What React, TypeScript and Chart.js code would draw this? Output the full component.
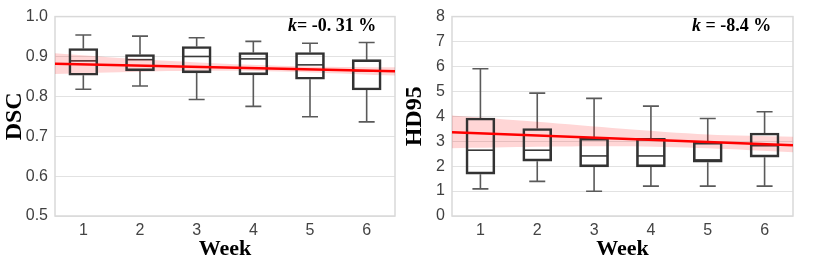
import React, { useEffect, useRef } from 'react';
import { Chart, registerables } from 'chart.js';
Chart.register(...registerables);

// ---------- data ----------
const weeks = ['1', '2', '3', '4', '5', '6'];

const dscMin = [0.818, 0.826, 0.792, 0.775, 0.749, 0.736];
const dscQ1 = [0.853, 0.864, 0.859, 0.854, 0.843, 0.816];
const dscMedian = [0.889, 0.892, 0.9, 0.894, 0.879, 0.864];
const dscQ3 = [0.92, 0.905, 0.925, 0.91, 0.91, 0.892];
const dscMax = [0.954, 0.951, 0.947, 0.938, 0.933, 0.935];
const dscFitX = [0.5, 6.5];
const dscFitY = [0.882, 0.863];
const dscBandX = [0.5, 2, 3.5, 5, 6.5];
const dscBandLow = [0.856, 0.862, 0.864, 0.86, 0.852];
const dscBandHigh = [0.908, 0.893, 0.882, 0.875, 0.873];
const dscTicks = [0.5, 0.6, 0.7, 0.8, 0.9, 1.0];

const hdMin = [1.09, 1.39, 0.99, 1.2, 1.2, 1.2];
const hdQ1 = [1.68, 2.2, 1.97, 1.97, 2.16, 2.36];
const hdMedian = [2.64, 2.64, 2.41, 2.41, 2.25, 2.82];
const hdQ3 = [3.93, 3.51, 3.12, 3.12, 2.96, 3.33];
const hdMax = [5.91, 4.93, 4.72, 4.41, 3.91, 4.18];
const hdFitX = [0.5, 6.5];
const hdFitY = [3.36, 2.84];
const hdBandX = [0.5, 2, 3.5, 5, 6.5];
const hdBandLow = [2.72, 2.78, 2.8, 2.72, 2.56];
const hdBandHigh = [4.03, 3.78, 3.5, 3.27, 3.18];
const hdTicks = [0, 1, 2, 3, 4, 5, 6, 7, 8];

const SANS = '"Liberation Sans", Arial, sans-serif';
const SERIF = '"Liberation Serif", "Times New Roman", serif';

type Panel = {
  min: number[]; q1: number[]; med: number[]; q3: number[]; max: number[];
  fitX: number[]; fitY: number[];
  bandX: number[]; bandLow: number[]; bandHigh: number[];
  ticks: number[]; decimals: number;
  yTitle: string;
  kRest: string; kX: number;
  width: number; yWidth: number; padRight: number;
};

function makePlugin(p: Panel) {
  return {
    id: 'boxExtras',
    beforeDatasetsDraw(chart: any) {
      const { ctx, chartArea: a, scales } = chart;
      const x = scales.x, y = scales.y;
      ctx.save();
      ctx.strokeStyle = '#d9d9d9';
      ctx.lineWidth = 1.5;
      ctx.strokeRect(a.left, a.top, a.right - a.left, a.bottom - a.top);
      for (let i = 0; i < p.q1.length; i++) {
        const cx = x.getPixelForValue(i);
        const yMin = y.getPixelForValue(p.min[i]);
        const yQ1 = y.getPixelForValue(p.q1[i]);
        const yQ3 = y.getPixelForValue(p.q3[i]);
        const yMax = y.getPixelForValue(p.max[i]);
        const yMed = y.getPixelForValue(p.med[i]);
        ctx.strokeStyle = '#5a5a5a';
        ctx.lineWidth = 1.6;
        ctx.beginPath();
        ctx.moveTo(cx, yQ3); ctx.lineTo(cx, yMax);
        ctx.moveTo(cx - 8, yMax); ctx.lineTo(cx + 8, yMax);
        ctx.moveTo(cx, yQ1); ctx.lineTo(cx, yMin);
        ctx.moveTo(cx - 8, yMin); ctx.lineTo(cx + 8, yMin);
        ctx.stroke();
        ctx.strokeStyle = '#3a3a3a';
        ctx.lineWidth = 1.6;
        ctx.beginPath();
        ctx.moveTo(cx - 14, yMed); ctx.lineTo(cx + 14, yMed);
        ctx.stroke();
      }
      ctx.restore();
    },
    afterDraw(chart: any) {
      const { ctx } = chart;
      ctx.save();
      ctx.fillStyle = '#000';
      ctx.textBaseline = 'alphabetic';
      ctx.textAlign = 'left';
      ctx.font = `italic bold 18px ${SERIF}`;
      ctx.fillText('k', p.kX, 31);
      const w = ctx.measureText('k').width;
      ctx.font = `bold 18px ${SERIF}`;
      ctx.fillText(p.kRest, p.kX + w, 31);
      ctx.restore();
    },
  };
}

function makeConfig(p: Panel): any {
  return {
    type: 'bar',
    data: {
      labels: weeks,
      datasets: [
        {
          type: 'line', xAxisID: 'x2',
          data: p.bandX.map((v, i) => ({ x: v, y: p.bandLow[i] })),
          borderWidth: 0, pointRadius: 0, fill: false, order: 3, tension: 0.3,
        },
        {
          type: 'line', xAxisID: 'x2',
          data: p.bandX.map((v, i) => ({ x: v, y: p.bandHigh[i] })),
          borderWidth: 0, pointRadius: 0, fill: '-1',
          backgroundColor: 'rgba(255,0,0,0.16)', order: 3, tension: 0.3,
        },
        {
          type: 'bar', xAxisID: 'x',
          data: p.q1.map((v, i) => [v, p.q3[i]]),
          backgroundColor: 'rgba(0,0,0,0)', borderColor: '#333',
          borderWidth: 2, borderSkipped: false, barThickness: 29, grouped: false, order: 2,
        },
        {
          type: 'line', xAxisID: 'x2',
          data: p.fitX.map((v, i) => ({ x: v, y: p.fitY[i] })),
          borderColor: '#ff0000', borderWidth: 2.5, pointRadius: 0, fill: false, order: 1,
        },
      ],
    },
    options: {
      animation: false,
      responsive: false,
      devicePixelRatio: 1,
      layout: { padding: { top: 13, right: p.padRight, bottom: 0, left: 0 } },
      plugins: { legend: { display: false }, tooltip: { enabled: false } },
      scales: {
        x: {
          type: 'category',
          offset: true,
          grid: { display: false, drawTicks: false },
          border: { display: false },
          ticks: { color: '#444', font: { family: SANS, size: 16 }, padding: 5 },
          title: {
            display: true, text: 'Week', color: '#000',
            font: { family: SERIF, size: 22, weight: 'bold' },
            padding: { top: 0, bottom: 0 },
          },
          afterFit: (s: any) => { s.height = 47; },
        },
        x2: {
          type: 'linear', display: false, min: 0.5, max: 6.5,
          offset: false, grid: { offset: false },
        },
        y: {
          min: p.ticks[0], max: p.ticks[p.ticks.length - 1],
          afterBuildTicks: (s: any) => { s.ticks = p.ticks.map((v) => ({ value: v })); },
          grid: { color: '#e2e2e2', lineWidth: 1, drawTicks: false },
          border: { display: false },
          ticks: {
            color: '#404040', font: { family: SANS, size: 16 }, padding: 7,
            callback: (v: any) => Number(v).toFixed(p.decimals),
          },
          title: {
            display: true, text: p.yTitle, color: '#000',
            font: { family: SERIF, size: 24, weight: 'bold' },
            padding: { top: 0, bottom: 0 },
          },
          afterFit: (s: any) => { s.width = p.yWidth; },
        },
      },
    },
    plugins: [makePlugin(p)],
  };
}

function BoxChart({ panel, left }: { panel: Panel; left: number }) {
  const ref = useRef<HTMLCanvasElement>(null);
  useEffect(() => {
    if (!ref.current) return;
    const chart = new Chart(ref.current, makeConfig(panel));
    return () => chart.destroy();
  }, [panel]);
  return (
    <canvas
      ref={ref}
      width={panel.width}
      height={263}
      style={{ position: 'absolute', left, top: 0, width: panel.width, height: 263, display: 'block' }}
    />
  );
}

const dscPanel: Panel = {
  min: dscMin, q1: dscQ1, med: dscMedian, q3: dscQ3, max: dscMax,
  fitX: dscFitX, fitY: dscFitY, bandX: dscBandX, bandLow: dscBandLow, bandHigh: dscBandHigh,
  ticks: dscTicks, decimals: 1, yTitle: 'DSC', kRest: '= -0. 31 %', kX: 288,
  width: 400, yWidth: 55, padRight: 5,
};

const hdPanel: Panel = {
  min: hdMin, q1: hdQ1, med: hdMedian, q3: hdQ3, max: hdMax,
  fitX: hdFitX, fitY: hdFitY, bandX: hdBandX, bandLow: hdBandLow, bandHigh: hdBandHigh,
  ticks: hdTicks, decimals: 0, yTitle: 'HD95', kRest: ' = -8.4 %', kX: 292,
  width: 430, yWidth: 52, padRight: 37,
};

export default function App() {
  return (
    <div style={{ position: 'absolute', left: 0, top: 0, width: 830, height: 263, background: '#fff', overflow: 'hidden' }}>
      <BoxChart panel={dscPanel} left={0} />
      <BoxChart panel={hdPanel} left={400} />
    </div>
  );
}
